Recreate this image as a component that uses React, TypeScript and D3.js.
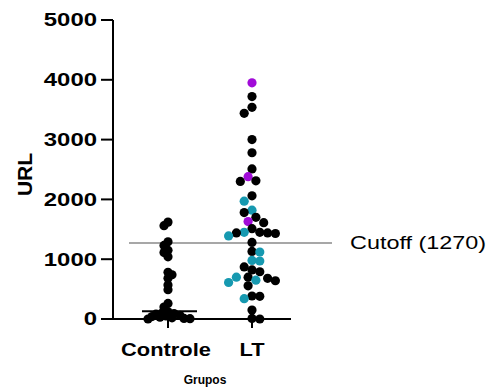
import * as d3 from "d3";

const groups = ["Controle", "LT"];
const yTicks = [0, 1000, 2000, 3000, 4000, 5000];

const controle = [
  1620, 1560, 1290, 1230, 1150, 1110, 1040, 780, 740, 680, 570, 490, 260, 200,
  120, 100, 90, 80, 60, 50, 40, 30, 20, 10, 5, 0,
];
const controleMedian = 130;

const ltBlack = [
  3720, 3540, 3440, 3000, 2780, 2510, 2310, 2300, 2060, 1780, 1700, 1610, 1510,
  1440, 1430, 1440, 1450, 1280, 1130, 870, 820, 790, 700, 680, 640, 555, 385,
  380, 150, 10, 0,
];
const ltTeal = [1970, 1820, 1390, 1450, 1120, 980, 970, 700, 650, 610, 340];
const ltPurple = [3950, 2380, 1630];

const cutoff = 1270;

const W = 501;
const H = 389;
const R = 4.6;

type Pt = { v: number; color: string; x: number };

export default function App() {
  const y = d3.scaleLinear().domain([0, 5000]).range([319, 20]);
  const x = d3.scalePoint<string>().domain(groups).range([168, 252]);

  // dodge layout, roughly like a GraphPad scatter column
  const swarm = (pts: { v: number; color: string }[], cx: number, step: number, minDist: number) => {
    const order = d3.range(pts.length).sort((a, b) => pts[b].v - pts[a].v);
    const placed: { dx: number; y: number }[] = [];
    const out: Pt[] = [];
    order.forEach((i, n) => {
      const yi = y(pts[i].v);
      for (let k = 0; k < 80; k++) {
        const s = n % 2 ? -1 : 1;
        const cands = k === 0 ? [0] : [s * k * step, -s * k * step];
        const dx = cands.find((c) =>
          placed.every((p) => Math.hypot(p.dx - c, p.y - yi) >= minDist)
        );
        if (dx !== undefined) {
          placed.push({ dx, y: yi });
          out.push({ ...pts[i], x: cx + dx });
          return;
        }
      }
    });
    return out;
  };

  const ctlPts = swarm(
    controle.map((v) => ({ v, color: "#000" })),
    x("Controle")!,
    2,
    4.6
  );
  const ltPts = swarm(
    [
      ...ltBlack.map((v) => ({ v, color: "#000" })),
      ...ltTeal.map((v) => ({ v, color: "#1699b0" })),
      ...ltPurple.map((v) => ({ v, color: "#a10bd8" })),
    ],
    x("LT")!,
    3.9,
    7.8
  );

  const font = "'Liberation Sans', Arial, sans-serif";

  return (
    <svg
      width={W}
      height={H}
      style={{ position: "absolute", left: 0, top: 0, background: "#fff" }}
      fontFamily={font}
    >
      {/* cutoff */}
      <line
        x1={129}
        x2={332}
        y1={y(cutoff)}
        y2={y(cutoff)}
        stroke="#8a8a8a"
        strokeWidth={1.5}
      />
      <text
        transform={`translate(350,${y(cutoff)}) scale(1.3,1)`}
        dy="0.35em"
        fontSize={18}
        fill="#000"
      >{`Cutoff (${cutoff})`}</text>

      {/* points */}
      {[...ctlPts, ...ltPts].map((p, i) => (
        <circle key={i} cx={p.x} cy={y(p.v)} r={R} fill={p.color} />
      ))}

      {/* median */}
      <line
        x1={142}
        x2={197}
        y1={y(controleMedian)}
        y2={y(controleMedian)}
        stroke="#000"
        strokeWidth={2}
      />

      {/* y axis */}
      <line x1={113} x2={113} y1={y(5000)} y2={y(0)} stroke="#000" strokeWidth={2} />
      {yTicks.map((t) => (
        <g key={t}>
          <line x1={101} x2={113} y1={y(t)} y2={y(t)} stroke="#000" strokeWidth={2} />
          <text
            transform={`translate(97,${y(t)}) scale(1.33,1)`}
            dy="0.35em"
            textAnchor="end"
            fontSize={18}
            fontWeight="bold"
          >
            {t}
          </text>
        </g>
      ))}
      <text
        transform={`translate(32,${(y(0) + y(5000)) / 2 + 5}) rotate(-90)`}
        textAnchor="middle"
        fontSize={21}
        fontWeight="bold"
      >
        URL
      </text>

      {/* x axis */}
      <line x1={112} x2={291} y1={y(0)} y2={y(0)} stroke="#000" strokeWidth={2} />
      {groups.map((g) => (
        <g key={g}>
          <line x1={x(g)} x2={x(g)} y1={y(0)} y2={y(0) + 9} stroke="#000" strokeWidth={2} />
          <text
            transform={`translate(${x(g)! - (g === "Controle" ? 2 : 0)},356) scale(1.15,1)`}
            textAnchor="middle"
            fontSize={19}
            fontWeight="bold"
          >
            {g}
          </text>
        </g>
      ))}
      <text x={205} y={384} textAnchor="middle" fontSize={12} fontWeight="bold">
        Grupos
      </text>
    </svg>
  );
}
